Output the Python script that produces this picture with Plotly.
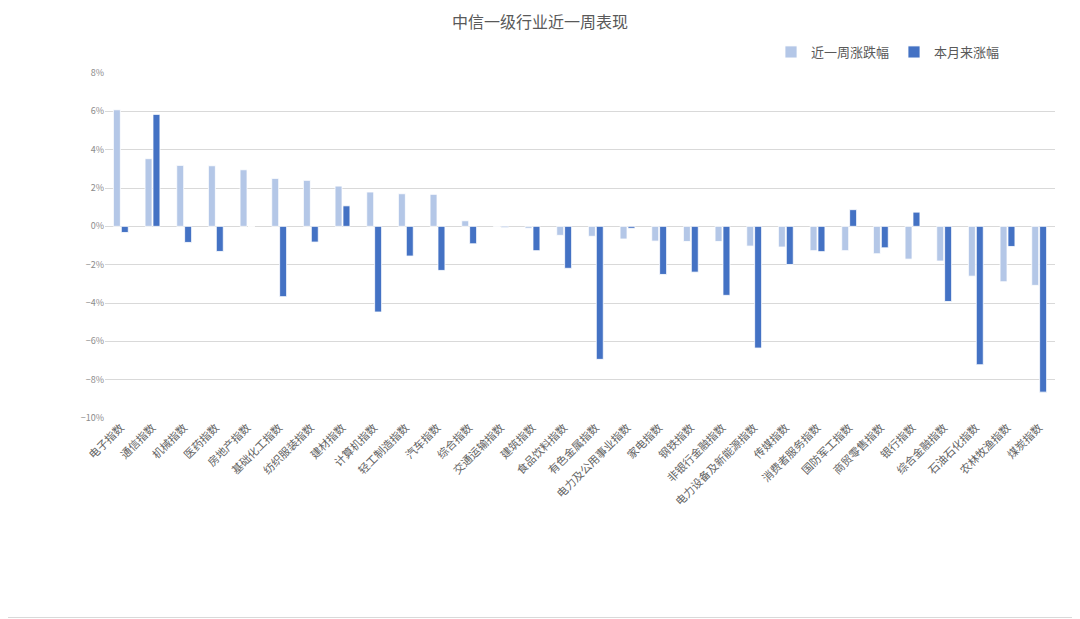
import plotly.graph_objects as go

categories = ["电子指数", "通信指数", "机械指数", "医药指数", "房地产指数", "基础化工指数",
              "纺织服装指数", "建材指数", "计算机指数", "轻工制造指数", "汽车指数", "综合指数",
              "交通运输指数", "建筑指数", "食品饮料指数", "有色金属指数", "电力及公用事业指数",
              "家电指数", "钢铁指数", "非银行金融指数", "电力设备及新能源指数", "传媒指数",
              "消费者服务指数", "国防军工指数", "商贸零售指数", "银行指数", "综合金融指数",
              "石油石化指数", "农林牧渔指数", "煤炭指数"]

weekly = [6.08, 3.53, 3.18, 3.16, 2.95, 2.50, 2.40, 2.10, 1.79, 1.70, 1.67, 0.29,
          -0.02, -0.10, -0.47, -0.52, -0.66, -0.77, -0.79, -0.79, -1.03, -1.08,
          -1.27, -1.27, -1.43, -1.71, -1.81, -2.60, -2.89, -3.08]

monthly = [-0.32, 5.84, -0.84, -1.31, 0.0, -3.67, -0.82, 1.07, -4.47, -1.55, -2.30, -0.91,
           -0.05, -1.27, -2.19, -6.94, -0.10, -2.51, -2.39, -3.60, -6.35, -1.99,
           -1.32, 0.87, -1.12, 0.74, -3.92, -7.22, -1.05, -8.65]

series_names = ["近一周涨跌幅", "本月来涨幅"]
title_text = "中信一级行业近一周表现"

# page has an 8px body margin; compensate so the plot lands where the reference has it
OFF = 8
W, H = 1080 - OFF, 619 - OFF
L, R, T, B = 105 - OFF, 25, 73 - OFF, 201

font_family = "Noto Sans CJK SC, Noto Sans, sans-serif"

fig = go.Figure()
fig.add_trace(go.Bar(x=categories, y=weekly, name=series_names[0],
                     marker=dict(color="#B4C7E7", line=dict(color="white", width=0.8))))
fig.add_trace(go.Bar(x=categories, y=monthly, name=series_names[1],
                     marker=dict(color="#4472C4", line=dict(color="white", width=0.8))))

pw = W - L - R
ph = H - T - B
def px_x(p):  # page px -> paper fraction
    return (p - OFF - L) / pw
def px_y(p):
    return 1 - (p - OFF - T) / ph

fig.update_layout(
    width=W, height=H,
    margin=dict(l=L, r=R, t=T, b=B, pad=0, autoexpand=False),
    paper_bgcolor="white", plot_bgcolor="white",
    barmode="group", bargap=0.5, bargroupgap=0.12,
    font=dict(family=font_family, color="#595959"),
    title=dict(text=title_text, x=(540 - OFF) / W, xref="container", xanchor="center",
               y=1 - (22 - OFF) / H, yref="container", yanchor="middle",
               font=dict(size=16, color="#595959", family=font_family)),
    legend=dict(orientation="h", xref="container", yref="container",
                x=(771 - OFF) / W, xanchor="left",
                y=1 - (52 - OFF) / H, yanchor="middle",
                font=dict(size=13, color="#595959"),
                itemwidth=30, entrywidth=78, traceorder="normal",
                bgcolor="rgba(0,0,0,0)"),
    xaxis=dict(tickangle=-45, tickfont=dict(size=11, color="#626262"),
               showgrid=False, showline=False, ticks="", automargin=False),
    yaxis=dict(range=[-10, 8], dtick=2, ticksuffix="%", tickfont=dict(size=9, color="#8C8C8C"),
               showgrid=True, gridcolor="#D9D9D9", gridwidth=1,
               zeroline=True, zerolinecolor="#D9D9D9", zerolinewidth=1,
               showline=False, ticks="", automargin=False),
    shapes=[
        dict(type="line", xref="paper", yref="paper",
             x0=px_x(1076.5), x1=px_x(1076.5), y0=px_y(OFF), y1=px_y(617.5),
             line=dict(color="#D9D9D9", width=1), layer="below"),
        dict(type="line", xref="paper", yref="paper",
             x0=px_x(OFF), x1=px_x(1076.5), y0=px_y(617.5), y1=px_y(617.5),
             line=dict(color="#D9D9D9", width=1), layer="below"),
    ],
)

fig.write_html("out.html")
